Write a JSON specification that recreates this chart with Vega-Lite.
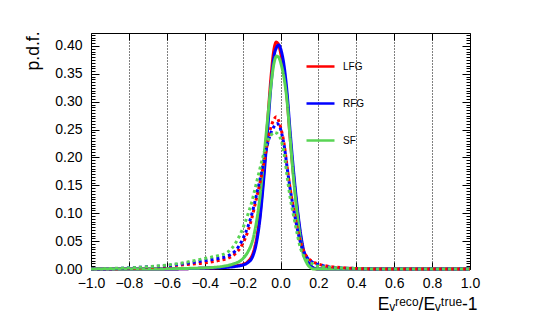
{
"$schema": "https://vega.github.io/schema/vega-lite/v6.json",
"width": 379, "height": 236,
"autosize": "none",
"padding": {"left": 91, "top": 33, "right": 75, "bottom": 49},
"background": "white",
"config": {
 "view": {"stroke": "black", "strokeWidth": 1},
 "font": "Liberation Sans",
 "axis": {"domainColor": "black", "tickColor": "black", "labelColor": "black", "titleColor": "black", "labelFont": "Liberation Sans", "titleFont": "Liberation Sans", "labelFlush": false, "labelOverlap": false, "tickWidth": 1, "titleFontWeight": "normal"}
},
"datasets": {"curves": [
{"m":"LFG","k":"solid","x":-1,"y":0},{"m":"LFG","k":"solid","x":-0.6,"y":0},{"m":"LFG","k":"solid","x":-0.45,"y":0.001},{"m":"LFG","k":"solid","x":-0.35,"y":0.002},{"m":"LFG","k":"solid","x":-0.28,"y":0.004},{"m":"LFG","k":"solid","x":-0.23,"y":0.006},{"m":"LFG","k":"solid","x":-0.2,"y":0.008},{"m":"LFG","k":"solid","x":-0.17,"y":0.014},{"m":"LFG","k":"solid","x":-0.15,"y":0.024},{"m":"LFG","k":"solid","x":-0.13,"y":0.048},{"m":"LFG","k":"solid","x":-0.11,"y":0.092},{"m":"LFG","k":"solid","x":-0.09,"y":0.165},{"m":"LFG","k":"solid","x":-0.07,"y":0.255},{"m":"LFG","k":"solid","x":-0.05,"y":0.345},{"m":"LFG","k":"solid","x":-0.035,"y":0.393},{"m":"LFG","k":"solid","x":-0.022,"y":0.407},{"m":"LFG","k":"solid","x":-0.01,"y":0.402},{"m":"LFG","k":"solid","x":0.005,"y":0.38},{"m":"LFG","k":"solid","x":0.02,"y":0.35},{"m":"LFG","k":"solid","x":0.035,"y":0.305},{"m":"LFG","k":"solid","x":0.05,"y":0.238},{"m":"LFG","k":"solid","x":0.07,"y":0.163},{"m":"LFG","k":"solid","x":0.09,"y":0.1},{"m":"LFG","k":"solid","x":0.105,"y":0.062},{"m":"LFG","k":"solid","x":0.12,"y":0.034},{"m":"LFG","k":"solid","x":0.14,"y":0.015},{"m":"LFG","k":"solid","x":0.16,"y":0.005},{"m":"LFG","k":"solid","x":0.18,"y":0.001},{"m":"LFG","k":"solid","x":0.2,"y":0},{"m":"LFG","k":"solid","x":1,"y":0},
{"m":"RFG","k":"solid","x":-1,"y":0},{"m":"RFG","k":"solid","x":-0.6,"y":0},{"m":"RFG","k":"solid","x":-0.45,"y":0.001},{"m":"RFG","k":"solid","x":-0.35,"y":0.002},{"m":"RFG","k":"solid","x":-0.28,"y":0.003},{"m":"RFG","k":"solid","x":-0.23,"y":0.005},{"m":"RFG","k":"solid","x":-0.2,"y":0.007},{"m":"RFG","k":"solid","x":-0.17,"y":0.012},{"m":"RFG","k":"solid","x":-0.15,"y":0.02},{"m":"RFG","k":"solid","x":-0.13,"y":0.042},{"m":"RFG","k":"solid","x":-0.11,"y":0.085},{"m":"RFG","k":"solid","x":-0.09,"y":0.155},{"m":"RFG","k":"solid","x":-0.07,"y":0.24},{"m":"RFG","k":"solid","x":-0.05,"y":0.33},{"m":"RFG","k":"solid","x":-0.035,"y":0.38},{"m":"RFG","k":"solid","x":-0.02,"y":0.398},{"m":"RFG","k":"solid","x":-0.01,"y":0.402},{"m":"RFG","k":"solid","x":0.005,"y":0.39},{"m":"RFG","k":"solid","x":0.02,"y":0.362},{"m":"RFG","k":"solid","x":0.035,"y":0.315},{"m":"RFG","k":"solid","x":0.05,"y":0.25},{"m":"RFG","k":"solid","x":0.07,"y":0.172},{"m":"RFG","k":"solid","x":0.09,"y":0.106},{"m":"RFG","k":"solid","x":0.105,"y":0.066},{"m":"RFG","k":"solid","x":0.12,"y":0.037},{"m":"RFG","k":"solid","x":0.14,"y":0.016},{"m":"RFG","k":"solid","x":0.16,"y":0.006},{"m":"RFG","k":"solid","x":0.18,"y":0.001},{"m":"RFG","k":"solid","x":0.2,"y":0},{"m":"RFG","k":"solid","x":1,"y":0},
{"m":"SF","k":"solid","x":-1,"y":0},{"m":"SF","k":"solid","x":-0.7,"y":0},{"m":"SF","k":"solid","x":-0.5,"y":0.001},{"m":"SF","k":"solid","x":-0.4,"y":0.002},{"m":"SF","k":"solid","x":-0.3,"y":0.005},{"m":"SF","k":"solid","x":-0.25,"y":0.009},{"m":"SF","k":"solid","x":-0.2,"y":0.018},{"m":"SF","k":"solid","x":-0.17,"y":0.032},{"m":"SF","k":"solid","x":-0.15,"y":0.048},{"m":"SF","k":"solid","x":-0.13,"y":0.078},{"m":"SF","k":"solid","x":-0.11,"y":0.125},{"m":"SF","k":"solid","x":-0.09,"y":0.192},{"m":"SF","k":"solid","x":-0.07,"y":0.262},{"m":"SF","k":"solid","x":-0.05,"y":0.33},{"m":"SF","k":"solid","x":-0.035,"y":0.368},{"m":"SF","k":"solid","x":-0.02,"y":0.382},{"m":"SF","k":"solid","x":-0.01,"y":0.38},{"m":"SF","k":"solid","x":0.005,"y":0.365},{"m":"SF","k":"solid","x":0.02,"y":0.34},{"m":"SF","k":"solid","x":0.035,"y":0.3},{"m":"SF","k":"solid","x":0.05,"y":0.238},{"m":"SF","k":"solid","x":0.07,"y":0.158},{"m":"SF","k":"solid","x":0.09,"y":0.094},{"m":"SF","k":"solid","x":0.105,"y":0.054},{"m":"SF","k":"solid","x":0.12,"y":0.027},{"m":"SF","k":"solid","x":0.14,"y":0.01},{"m":"SF","k":"solid","x":0.16,"y":0.002},{"m":"SF","k":"solid","x":0.175,"y":0},{"m":"SF","k":"solid","x":1,"y":0},
{"m":"LFG","k":"dotted","x":-1,"y":0},{"m":"LFG","k":"dotted","x":-0.9,"y":0.0005},{"m":"LFG","k":"dotted","x":-0.8,"y":0.001},{"m":"LFG","k":"dotted","x":-0.7,"y":0.003},{"m":"LFG","k":"dotted","x":-0.6,"y":0.005},{"m":"LFG","k":"dotted","x":-0.5,"y":0.008},{"m":"LFG","k":"dotted","x":-0.4,"y":0.011},{"m":"LFG","k":"dotted","x":-0.33,"y":0.015},{"m":"LFG","k":"dotted","x":-0.28,"y":0.019},{"m":"LFG","k":"dotted","x":-0.24,"y":0.027},{"m":"LFG","k":"dotted","x":-0.2,"y":0.045},{"m":"LFG","k":"dotted","x":-0.17,"y":0.07},{"m":"LFG","k":"dotted","x":-0.15,"y":0.093},{"m":"LFG","k":"dotted","x":-0.13,"y":0.122},{"m":"LFG","k":"dotted","x":-0.11,"y":0.152},{"m":"LFG","k":"dotted","x":-0.09,"y":0.186},{"m":"LFG","k":"dotted","x":-0.07,"y":0.223},{"m":"LFG","k":"dotted","x":-0.05,"y":0.255},{"m":"LFG","k":"dotted","x":-0.035,"y":0.268},{"m":"LFG","k":"dotted","x":-0.022,"y":0.273},{"m":"LFG","k":"dotted","x":-0.01,"y":0.266},{"m":"LFG","k":"dotted","x":0,"y":0.255},{"m":"LFG","k":"dotted","x":0.02,"y":0.222},{"m":"LFG","k":"dotted","x":0.035,"y":0.183},{"m":"LFG","k":"dotted","x":0.05,"y":0.146},{"m":"LFG","k":"dotted","x":0.07,"y":0.106},{"m":"LFG","k":"dotted","x":0.09,"y":0.07},{"m":"LFG","k":"dotted","x":0.105,"y":0.048},{"m":"LFG","k":"dotted","x":0.12,"y":0.034},{"m":"LFG","k":"dotted","x":0.14,"y":0.022},{"m":"LFG","k":"dotted","x":0.17,"y":0.013},{"m":"LFG","k":"dotted","x":0.2,"y":0.009},{"m":"LFG","k":"dotted","x":0.25,"y":0.005},{"m":"LFG","k":"dotted","x":0.3,"y":0.003},{"m":"LFG","k":"dotted","x":0.4,"y":0.001},{"m":"LFG","k":"dotted","x":0.5,"y":0},{"m":"LFG","k":"dotted","x":1,"y":0},
{"m":"RFG","k":"dotted","x":-1,"y":0},{"m":"RFG","k":"dotted","x":-0.9,"y":0.0005},{"m":"RFG","k":"dotted","x":-0.8,"y":0.002},{"m":"RFG","k":"dotted","x":-0.7,"y":0.004},{"m":"RFG","k":"dotted","x":-0.6,"y":0.006},{"m":"RFG","k":"dotted","x":-0.5,"y":0.01},{"m":"RFG","k":"dotted","x":-0.4,"y":0.015},{"m":"RFG","k":"dotted","x":-0.33,"y":0.019},{"m":"RFG","k":"dotted","x":-0.28,"y":0.023},{"m":"RFG","k":"dotted","x":-0.24,"y":0.032},{"m":"RFG","k":"dotted","x":-0.2,"y":0.053},{"m":"RFG","k":"dotted","x":-0.17,"y":0.078},{"m":"RFG","k":"dotted","x":-0.15,"y":0.1},{"m":"RFG","k":"dotted","x":-0.13,"y":0.128},{"m":"RFG","k":"dotted","x":-0.11,"y":0.158},{"m":"RFG","k":"dotted","x":-0.09,"y":0.19},{"m":"RFG","k":"dotted","x":-0.07,"y":0.222},{"m":"RFG","k":"dotted","x":-0.05,"y":0.245},{"m":"RFG","k":"dotted","x":-0.035,"y":0.255},{"m":"RFG","k":"dotted","x":-0.02,"y":0.261},{"m":"RFG","k":"dotted","x":-0.008,"y":0.258},{"m":"RFG","k":"dotted","x":0.005,"y":0.245},{"m":"RFG","k":"dotted","x":0.02,"y":0.22},{"m":"RFG","k":"dotted","x":0.035,"y":0.182},{"m":"RFG","k":"dotted","x":0.05,"y":0.146},{"m":"RFG","k":"dotted","x":0.07,"y":0.106},{"m":"RFG","k":"dotted","x":0.09,"y":0.07},{"m":"RFG","k":"dotted","x":0.105,"y":0.048},{"m":"RFG","k":"dotted","x":0.12,"y":0.033},{"m":"RFG","k":"dotted","x":0.14,"y":0.021},{"m":"RFG","k":"dotted","x":0.17,"y":0.012},{"m":"RFG","k":"dotted","x":0.2,"y":0.008},{"m":"RFG","k":"dotted","x":0.25,"y":0.004},{"m":"RFG","k":"dotted","x":0.3,"y":0.002},{"m":"RFG","k":"dotted","x":0.4,"y":0.001},{"m":"RFG","k":"dotted","x":0.5,"y":0},{"m":"RFG","k":"dotted","x":1,"y":0},
{"m":"SF","k":"dotted","x":-1,"y":0},{"m":"SF","k":"dotted","x":-0.9,"y":0.001},{"m":"SF","k":"dotted","x":-0.8,"y":0.002},{"m":"SF","k":"dotted","x":-0.7,"y":0.004},{"m":"SF","k":"dotted","x":-0.6,"y":0.007},{"m":"SF","k":"dotted","x":-0.5,"y":0.012},{"m":"SF","k":"dotted","x":-0.4,"y":0.019},{"m":"SF","k":"dotted","x":-0.33,"y":0.024},{"m":"SF","k":"dotted","x":-0.28,"y":0.03},{"m":"SF","k":"dotted","x":-0.24,"y":0.045},{"m":"SF","k":"dotted","x":-0.2,"y":0.072},{"m":"SF","k":"dotted","x":-0.17,"y":0.1},{"m":"SF","k":"dotted","x":-0.15,"y":0.122},{"m":"SF","k":"dotted","x":-0.13,"y":0.15},{"m":"SF","k":"dotted","x":-0.11,"y":0.178},{"m":"SF","k":"dotted","x":-0.09,"y":0.205},{"m":"SF","k":"dotted","x":-0.07,"y":0.228},{"m":"SF","k":"dotted","x":-0.05,"y":0.24},{"m":"SF","k":"dotted","x":-0.035,"y":0.245},{"m":"SF","k":"dotted","x":-0.022,"y":0.244},{"m":"SF","k":"dotted","x":-0.01,"y":0.24},{"m":"SF","k":"dotted","x":0,"y":0.234},{"m":"SF","k":"dotted","x":0.02,"y":0.205},{"m":"SF","k":"dotted","x":0.035,"y":0.166},{"m":"SF","k":"dotted","x":0.05,"y":0.13},{"m":"SF","k":"dotted","x":0.07,"y":0.094},{"m":"SF","k":"dotted","x":0.09,"y":0.06},{"m":"SF","k":"dotted","x":0.105,"y":0.038},{"m":"SF","k":"dotted","x":0.12,"y":0.025},{"m":"SF","k":"dotted","x":0.14,"y":0.016},{"m":"SF","k":"dotted","x":0.17,"y":0.009},{"m":"SF","k":"dotted","x":0.2,"y":0.005},{"m":"SF","k":"dotted","x":0.25,"y":0.003},{"m":"SF","k":"dotted","x":0.3,"y":0.002},{"m":"SF","k":"dotted","x":0.4,"y":0.001},{"m":"SF","k":"dotted","x":0.5,"y":0},{"m":"SF","k":"dotted","x":1,"y":0}
]},
"data": {"name": "curves"},
"layer": [
 {
  "mark": {"type": "point", "opacity": 0},
  "encoding": {
   "x": {"field": "x", "type": "quantitative", "scale": {"domain": [-1, 1], "nice": false, "zero": false},
     "axis": {"orient": "bottom", "values": [-0.8,-0.6,-0.4,-0.2,0,0.2,0.4,0.6,0.8], "labels": false, "ticks": false, "domain": false, "grid": true, "gridDash": [1,2], "gridColor": "black", "gridWidth": 1, "gridOpacity": 1, "title": null}},
   "y": {"field": "y", "type": "quantitative", "scale": {"domain": [0, 0.4233], "nice": false}, "axis": null}
  }
 },
 {
  "mark": {"type": "line", "strokeWidth": 3, "interpolate": "monotone"},
  "encoding": {
   "x": {"field": "x", "type": "quantitative", "scale": {"domain": [-1, 1], "nice": false, "zero": false},
     "axis": {"orient": "bottom", "offset": -7, "values": [-1,-0.8,-0.6,-0.4,-0.2,0,0.2,0.4,0.6,0.8,1], "format": ".1f", "labelFontSize": 14, "labelPadding": 7, "tickSize": 7, "domain": false, "grid": false,
       "title": "Eᵥʳᵉᶜᵒ/Eᵥᵗʳᵘᵉ-1", "titleFontSize": 17.5, "titleAnchor": "end", "titleAlign": "right", "titleBaseline": "alphabetic", "titleX": 386, "titleY": 47.5}},
   "y": {"field": "y", "type": "quantitative", "scale": {"domain": [0, 0.4233], "nice": false},
     "axis": {"orient": "left", "offset": -8, "values": [0,0.05,0.1,0.15,0.2,0.25,0.3,0.35,0.4], "format": ".2f", "labelFontSize": 14, "labelPadding": 9, "tickSize": 8, "domain": false, "grid": false,
       "title": "p.d.f.", "titleFontSize": 17.5, "titleAngle": -90, "titleAlign": "right", "titleBaseline": "alphabetic", "titleX": -61, "titleY": -2}},
   "color": {"field": "m", "type": "nominal", "scale": {"domain": ["LFG","RFG","SF"], "range": ["#ff0000","#0000ff","#59d454"]},
     "legend": {"orient": "none", "legendX": 214, "legendY": 18, "title": null, "symbolType": "stroke", "symbolSize": 784, "symbolStrokeWidth": 2.5, "labelFontSize": 10, "labelFont": "Liberation Sans", "labelColor": "black", "rowPadding": 16, "labelOffset": 7, "padding": 0, "symbolOffset": 0}},
   "strokeDash": {"field": "k", "type": "nominal", "scale": {"domain": ["solid","dotted"], "range": [[1,0],[3,3]]}, "legend": null}
  }
 },
 {
  "mark": {"type": "point", "opacity": 0},
  "encoding": {
   "x": {"field": "x", "type": "quantitative", "scale": {"domain": [-1, 1], "nice": false, "zero": false},
     "axis": {"orient": "top", "offset": -7, "values": [-1,-0.8,-0.6,-0.4,-0.2,0,0.2,0.4,0.6,0.8,1], "labels": false, "tickSize": 7, "domain": false, "grid": false, "title": null}},
   "y": {"field": "y", "type": "quantitative", "scale": {"domain": [0, 0.4233], "nice": false},
     "axis": {"orient": "right", "offset": -8, "values": [0,0.05,0.1,0.15,0.2,0.25,0.3,0.35,0.4], "labels": false, "tickSize": 8, "domain": false, "grid": false, "title": null}}
  }
 },
 {
  "mark": {"type": "point", "opacity": 0},
  "encoding": {
   "x": {"field": "x", "type": "quantitative", "scale": {"domain": [-1, 1], "nice": false, "zero": false}, "axis": null},
   "y": {"field": "y", "type": "quantitative", "scale": {"domain": [0, 0.4233], "nice": false},
     "axis": {"orient": "left", "offset": -4, "values": [0.005,0.01,0.015,0.02,0.025,0.03,0.035,0.04,0.045,0.055,0.06,0.065,0.07,0.075,0.08,0.085,0.09,0.095,0.105,0.11,0.115,0.12,0.125,0.13,0.135,0.14,0.145,0.155,0.16,0.165,0.17,0.175,0.18,0.185,0.19,0.195,0.205,0.21,0.215,0.22,0.225,0.23,0.235,0.24,0.245,0.255,0.26,0.265,0.27,0.275,0.28,0.285,0.29,0.295,0.305,0.31,0.315,0.32,0.325,0.33,0.335,0.34,0.345,0.355,0.36,0.365,0.37,0.375,0.38,0.385,0.39,0.395,0.405,0.41,0.415,0.42], "labels": false, "tickSize": 4, "domain": false, "grid": false, "title": null}}
  }
 },
 {
  "mark": {"type": "point", "opacity": 0},
  "encoding": {
   "x": {"field": "x", "type": "quantitative", "scale": {"domain": [-1, 1], "nice": false, "zero": false}, "axis": null},
   "y": {"field": "y", "type": "quantitative", "scale": {"domain": [0, 0.4233], "nice": false},
     "axis": {"orient": "right", "offset": -4, "values": [0.005,0.01,0.015,0.02,0.025,0.03,0.035,0.04,0.045,0.055,0.06,0.065,0.07,0.075,0.08,0.085,0.09,0.095,0.105,0.11,0.115,0.12,0.125,0.13,0.135,0.14,0.145,0.155,0.16,0.165,0.17,0.175,0.18,0.185,0.19,0.195,0.205,0.21,0.215,0.22,0.225,0.23,0.235,0.24,0.245,0.255,0.26,0.265,0.27,0.275,0.28,0.285,0.29,0.295,0.305,0.31,0.315,0.32,0.325,0.33,0.335,0.34,0.345,0.355,0.36,0.365,0.37,0.375,0.38,0.385,0.39,0.395,0.405,0.41,0.415,0.42], "labels": false, "tickSize": 4, "domain": false, "grid": false, "title": null}}
  }
 }
],
"resolve": {"axis": {"x": "independent", "y": "independent"}}
}
